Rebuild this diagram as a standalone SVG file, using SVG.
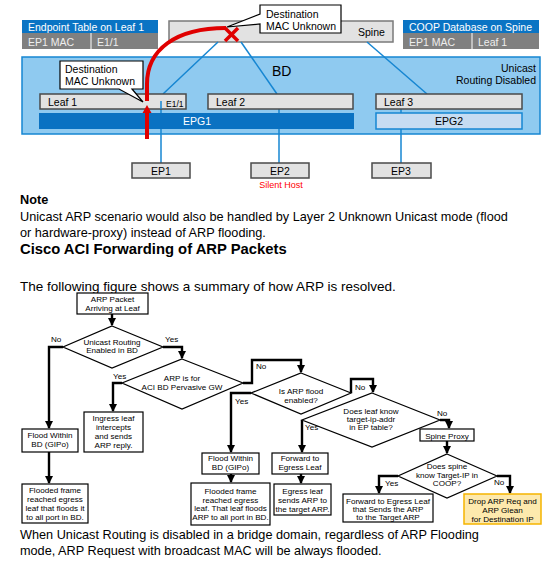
<svg xmlns="http://www.w3.org/2000/svg" width="552" height="579" viewBox="0 0 552 579">
<defs>
<style>
.t{font-family:"Liberation Sans",Arial,sans-serif;}
.body{font-family:"Liberation Sans",Arial,sans-serif;font-size:12.7px;fill:#000;}
.f{font-family:"Liberation Sans",Arial,sans-serif;font-size:8.1px;fill:#000;text-anchor:middle;}
.lab{font-family:"Liberation Sans",Arial,sans-serif;font-size:8.1px;fill:#000;}
.box{fill:#fff;stroke:#000;stroke-width:1.2;}
.con{fill:none;stroke:#000;stroke-width:2.4;}
.hdr{fill:#0a74c4;}
.row{fill:#808080;}
.wt{font-family:"Liberation Sans",Arial,sans-serif;font-size:10.5px;fill:#fff;}
.gt{font-family:"Liberation Sans",Arial,sans-serif;font-size:10.5px;fill:#eeeeee;}
.leaf{fill:#e2e2e2;stroke:#4a4a4a;stroke-width:1.5;}
.bt{font-family:"Liberation Sans",Arial,sans-serif;font-size:10.5px;fill:#000;}
.bl{stroke:#1686d2;stroke-width:1.5;fill:none;}
.co{fill:#fff;stroke:#000;stroke-width:1.2;}
</style>
<marker id="ah" markerUnits="userSpaceOnUse" markerWidth="8" markerHeight="8" refX="7" refY="4" orient="auto">
<path d="M0,0 L8,4 L0,8 Z" fill="#000"/>
</marker>
</defs>

<!-- Top diagram -->
<g id="ep-table">
<rect x="22" y="20" width="136" height="13" class="hdr"/>
<text x="28" y="30.5" class="wt">Endpoint Table on Leaf 1</text>
<rect x="22" y="33" width="136" height="16" class="row"/>
<line x1="91" y1="33" x2="91" y2="49" stroke="#fff" stroke-width="1"/>
<text x="28" y="46" class="gt">EP1 MAC</text>
<text x="97" y="46" class="gt">E1/1</text>
</g>
<g id="coop-table">
<rect x="403" y="20" width="136" height="13" class="hdr"/>
<text x="409" y="30.5" class="wt">COOP Database on Spine</text>
<rect x="403" y="33" width="136" height="16" class="row"/>
<line x1="472" y1="33" x2="472" y2="49" stroke="#fff" stroke-width="1"/>
<text x="409" y="46" class="gt">EP1 MAC</text>
<text x="478" y="46" class="gt">Leaf 1</text>
</g>
<g id="bd">
<rect x="22" y="57" width="518" height="77" fill="#8fcaf0" stroke="#1686d2" stroke-width="1.5"/>
<text x="272" y="76" class="t" font-size="14">BD</text>
<text x="536" y="72" class="bt" text-anchor="end">Unicast</text>
<text x="536" y="84" class="bt" text-anchor="end">Routing Disabled</text>
</g>
<g id="spine">
<rect x="169" y="21" width="224" height="21" fill="#e2e2e2" stroke="#7a7a7a" stroke-width="1.5"/>
<text x="358" y="36" class="bt">Spine</text>
</g>
<g id="top-links">
<line x1="218" y1="42" x2="163" y2="94" class="bl"/>
<line x1="241" y1="42" x2="277" y2="94" class="bl"/>
<line x1="367" y1="42" x2="427" y2="94" class="bl"/>
<line x1="161" y1="101" x2="161" y2="163" class="bl"/>
<line x1="279" y1="109" x2="279" y2="163" class="bl"/>
<line x1="401" y1="109" x2="401" y2="163" class="bl"/>
</g>
<g id="leaf1">
<rect x="40" y="94" width="146" height="15" class="leaf"/>
<line x1="161" y1="101" x2="161" y2="109" class="bl"/>
<text x="48" y="105.5" class="bt">Leaf 1</text>
<text x="166" y="107" class="t" font-size="8.5">E1/1</text>
</g>
<g id="leaf2">
<rect x="208" y="94" width="145" height="15" class="leaf"/>
<text x="216" y="105.5" class="bt">Leaf 2</text>
</g>
<g id="leaf3">
<rect x="376" y="94" width="146" height="15" class="leaf"/>
<text x="384" y="105.5" class="bt">Leaf 3</text>
</g>
<g id="epg1">
<rect x="39" y="113" width="315" height="16" fill="#0a72c2"/>
<text x="197" y="125" class="wt" text-anchor="middle">EPG1</text>
</g>
<g id="epg2">
<rect x="376" y="113" width="146" height="16" fill="#c6dcf2" stroke="#1686d2" stroke-width="1.5"/>
<text x="449" y="125" class="bt" text-anchor="middle">EPG2</text>
</g>
<g id="ep1">
<rect x="132" y="163" width="58" height="15" class="leaf"/>
<text x="161" y="174.5" class="bt" text-anchor="middle">EP1</text>
</g>
<g id="ep2">
<rect x="251" y="163" width="58" height="15" class="leaf"/>
<text x="280" y="174.5" class="bt" text-anchor="middle">EP2</text>
<text x="281" y="188" class="t" font-size="9" fill="#ff0000" text-anchor="middle">Silent Host</text>
</g>
<g id="ep3">
<rect x="372" y="163" width="59" height="15" class="leaf"/>
<text x="401" y="174.5" class="bt" text-anchor="middle">EP3</text>
</g>
<g id="red-path">
<path d="M147,101 L147,84 C147,50 175,28 226,28" fill="none" stroke="#e00000" stroke-width="4"/>
<line x1="147" y1="139" x2="147" y2="111" stroke="#e00000" stroke-width="4"/>
<path d="M142.5,113 L147,105 L151.5,113 Z" fill="#e00000"/>
<line x1="225" y1="28" x2="238" y2="41" stroke="#e00000" stroke-width="3.5"/>
<line x1="238" y1="28" x2="225" y2="41" stroke="#e00000" stroke-width="3.5"/>
</g>
<g id="callout-leaf">
<path d="M60,61 H143 V89 H132 L143,102 L119,89 H60 Z" class="co"/>
<text x="65" y="73" class="bt">Destination</text>
<text x="65" y="85" class="bt">MAC Unknown</text>
</g>
<g id="callout-spine">
<path d="M260,5 H341 V33 H260 V24 L227,27 L260,14 Z" class="co"/>
<text x="266" y="18" class="bt">Destination</text>
<text x="266" y="30" class="bt">MAC Unknown</text>
</g>

<!-- Text -->
<text x="20" y="204" class="t" font-size="12.7" font-weight="bold">Note</text>
<text x="20" y="221" class="body">Unicast ARP scenario would also be handled by Layer 2 Unknown Unicast mode (flood</text>
<text x="20" y="237" class="body">or hardware-proxy) instead of ARP flooding.</text>
<text x="20" y="254" class="t" font-size="14.8" font-weight="bold">Cisco ACI Forwarding of ARP Packets</text>
<text x="20" y="291" class="body" style="font-size:13.5px">The following figure shows a summary of how ARP is resolved.</text>
<text x="20" y="539" class="body">When Unicast Routing is disabled in a bridge domain, regardless of ARP Flooding</text>
<text x="20" y="555" class="body">mode, ARP Request with broadcast MAC will be always flooded.</text>

<!-- Flowchart connectors -->
<g id="connectors">
<path d="M112,314 V325" class="con" marker-end="url(#ah)"/>
<path d="M63,347 H49 V428" class="con" marker-end="url(#ah)"/>
<path d="M49,452 V483" class="con" marker-end="url(#ah)"/>
<path d="M163,347 H182 V358" class="con" marker-end="url(#ah)"/>
<path d="M122,383 H113 V411" class="con" marker-end="url(#ah)"/>
<path d="M243,383 H252 V360 H301 V372" class="con" marker-end="url(#ah)"/>
<path d="M251,393 H231 V452" class="con" marker-end="url(#ah)"/>
<path d="M231,474 V482" class="con" marker-end="url(#ah)"/>
<path d="M351,393 V379 H373 V392" class="con" marker-end="url(#ah)"/>
<path d="M302,420 V452" class="con" marker-end="url(#ah)"/>
<path d="M301,474 V483" class="con" marker-end="url(#ah)"/>
<path d="M440,420 H449 V428" class="con" marker-end="url(#ah)"/>
<path d="M447,441 V453" class="con" marker-end="url(#ah)"/>
<path d="M398,476 H379 V493" class="con" marker-end="url(#ah)"/>
<path d="M497,476 H510 V493" class="con" marker-end="url(#ah)"/>
</g>
<g id="connector-labels">
<text x="51" y="342" class="lab">No</text>
<text x="165" y="342" class="lab">Yes</text>
<text x="113" y="379" class="lab">Yes</text>
<text x="256" y="369" class="lab">No</text>
<text x="235" y="404" class="lab">Yes</text>
<text x="355" y="390" class="lab">No</text>
<text x="305" y="430" class="lab">Yes</text>
<text x="437" y="416" class="lab">No</text>
<text x="385" y="486" class="lab">Yes</text>
<text x="494" y="485" class="lab">No</text>
</g>

<!-- Flowchart nodes -->
<g id="n-arp">
<rect x="77" y="293" width="71" height="21" class="box"/>
<text class="f"><tspan x="112.5" y="302">ARP Packet</tspan><tspan x="112.5" y="311">Arriving at Leaf</tspan></text>
</g>
<g id="d-unicast">
<polygon points="112,326 163,347 112,368 63,347" class="box"/>
<text class="f"><tspan x="112" y="345">Unicast Routing</tspan><tspan x="112" y="353">Enabled in BD</tspan></text>
</g>
<g id="d-gw">
<polygon points="182,359 243,383 182,409 122,383" class="box"/>
<text class="f"><tspan x="182" y="381">ARP is for</tspan><tspan x="182" y="390">ACI BD Pervasive GW</tspan></text>
</g>
<g id="n-ingress">
<rect x="84" y="412" width="59" height="40" class="box"/>
<text class="f"><tspan x="113.5" y="421">Ingress leaf</tspan><tspan x="113.5" y="430">intercepts</tspan><tspan x="113.5" y="439">and sends</tspan><tspan x="113.5" y="448">ARP reply.</tspan></text>
</g>
<g id="n-flood1">
<rect x="22" y="429" width="56" height="23" class="box"/>
<text class="f"><tspan x="50" y="437.5">Flood Within</tspan><tspan x="50" y="446.5">BD (GIPo)</tspan></text>
</g>
<g id="n-flooded1">
<rect x="22" y="484" width="66" height="39" class="box"/>
<text class="f"><tspan x="55" y="493">Flooded frame</tspan><tspan x="55" y="502">reached egress</tspan><tspan x="55" y="511">leaf that floods it</tspan><tspan x="55" y="520">to all port in BD.</tspan></text>
</g>
<g id="d-flood">
<polygon points="301,373 351,393 301,414 251,393" class="box"/>
<text class="f"><tspan x="301" y="394">Is ARP flood</tspan><tspan x="301" y="403">enabled?</tspan></text>
</g>
<g id="d-leafknow">
<polygon points="372,393 440,420 372,447 302,420" class="box"/>
<text class="f"><tspan x="371" y="414">Does leaf know</tspan><tspan x="371" y="422">target-ip-addr</tspan><tspan x="371" y="430">in EP table?</tspan></text>
</g>
<g id="n-flood2">
<rect x="202" y="453" width="57" height="21" class="box"/>
<text class="f"><tspan x="230.5" y="461">Flood Within</tspan><tspan x="230.5" y="470">BD (GIPo)</tspan></text>
</g>
<g id="n-flooded2">
<rect x="191" y="483" width="79" height="42" class="box"/>
<text class="f"><tspan x="230.5" y="494">Flooded frame</tspan><tspan x="230.5" y="502.5">reached egress</tspan><tspan x="230.5" y="511">leaf. That leaf floods</tspan><tspan x="230.5" y="520">ARP to all port in BD.</tspan></text>
</g>
<g id="n-forward">
<rect x="272" y="453" width="56" height="21" class="box"/>
<text class="f"><tspan x="300" y="461">Forward to</tspan><tspan x="300" y="470">Egress Leaf</tspan></text>
</g>
<g id="n-egress">
<rect x="274" y="484" width="57" height="31" class="box"/>
<text class="f"><tspan x="302.5" y="493.5">Egress leaf</tspan><tspan x="302.5" y="502.5">sends ARP to</tspan><tspan x="302.5" y="511.5">the target ARP.</tspan></text>
</g>
<g id="n-spineproxy">
<rect x="420" y="429" width="54" height="12" class="box"/>
<text x="447" y="438.5" class="f">Spine Proxy</text>
</g>
<g id="d-spine">
<polygon points="447,454 497,476 447,498 398,476" class="box"/>
<text class="f"><tspan x="447" y="469">Does spine</tspan><tspan x="447" y="478">know Target-IP in</tspan><tspan x="447" y="486">COOP?</tspan></text>
</g>
<g id="n-fwdegress">
<rect x="343" y="494" width="90" height="28" class="box"/>
<text class="f"><tspan x="388" y="504">Forward to Egress Leaf</tspan><tspan x="388" y="512">that Sends the ARP</tspan><tspan x="388" y="520">to the Target ARP</tspan></text>
</g>
<g id="n-drop">
<rect x="464" y="494" width="77" height="30" fill="#fde9ad" stroke="#f5b400" stroke-width="1.5"/>
<text class="f"><tspan x="502.5" y="504">Drop ARP Req and</tspan><tspan x="502.5" y="513">ARP Glean</tspan><tspan x="502.5" y="521.5">for Destination IP</tspan></text>
</g>
</svg>
